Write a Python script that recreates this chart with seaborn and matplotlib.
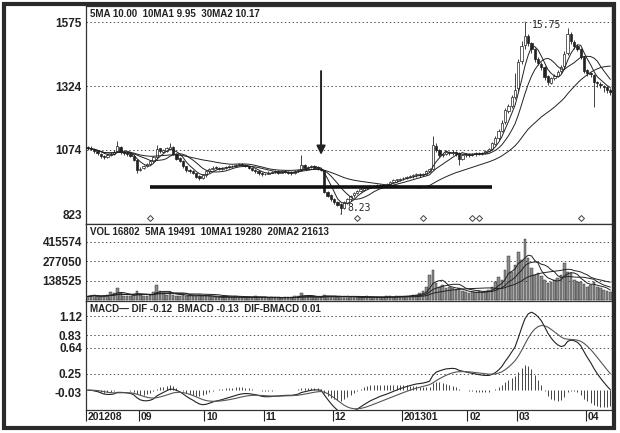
import matplotlib
matplotlib.use("Agg")
import matplotlib.pyplot as plt
import matplotlib.transforms as mtransforms
from matplotlib.patches import Rectangle
import numpy as np
import pandas as pd
import seaborn as sns

# daily bars Aug 2012 - Apr 2013, prices x100
close = [1080, 1078, 1070, 1062, 1050, 1045, 1055, 1060, 1068, 1090,
         1066, 1062, 1058, 1052, 1035, 995, 1000, 1012, 1020, 1030,
         1045, 1078, 1070, 1072, 1080, 1085, 1060, 1040, 1030, 1010,
         995, 990, 985, 970, 965, 975, 990, 1000, 1005, 1003,
         1000, 1004, 1008, 1010, 1012, 1015, 1018, 1015, 1010, 1002,
         995, 990, 982, 978, 980, 985, 988, 990, 985, 990,
         988, 985, 982, 990, 995, 1015, 1005, 1008, 1010, 1005,
         1000, 995, 910, 895, 880, 870, 860, 845, 870, 880,
         895, 905, 912, 920, 925, 928, 933, 930, 935, 937,
         935, 940, 948, 955, 958, 962, 965, 968, 972, 975,
         978, 976, 980, 990, 1000, 1095, 1075, 1054, 1060, 1066,
         1062, 1068, 1060, 1040, 1055, 1058, 1054, 1058, 1062, 1060,
         1064, 1070, 1076, 1100, 1121, 1150, 1180, 1230, 1245, 1280,
         1310, 1420, 1480, 1520, 1495, 1470, 1430, 1415, 1400, 1360,
         1340, 1355, 1365, 1380, 1400, 1450, 1530, 1500, 1480, 1470,
         1440, 1385, 1375, 1370, 1340, 1335, 1328, 1320, 1310, 1300]
open_ = [1085, 1082, 1076, 1070, 1060, 1050, 1046, 1056, 1060, 1070,
         1085, 1068, 1062, 1058, 1052, 1035, 996, 1002, 1013, 1021,
         1032, 1048, 1080, 1068, 1071, 1078, 1084, 1058, 1042, 1030,
         1010, 996, 990, 982, 972, 966, 975, 990, 1000, 1006,
         1004, 1000, 1004, 1008, 1010, 1012, 1015, 1018, 1016, 1010,
         1002, 996, 990, 984, 978, 980, 985, 988, 992, 985,
         991, 988, 986, 982, 990, 996, 1014, 1004, 1008, 1011,
         1006, 1001, 995, 908, 896, 882, 872, 862, 846, 868,
         880, 896, 904, 913, 919, 926, 928, 934, 929, 934,
         938, 934, 941, 947, 956, 957, 963, 964, 969, 971,
         976, 980, 975, 981, 990, 1000, 1090, 1074, 1055, 1060,
         1067, 1061, 1068, 1062, 1040, 1054, 1059, 1055, 1057, 1063,
         1059, 1063, 1069, 1078, 1098, 1120, 1150, 1182, 1228, 1248,
         1282, 1315, 1422, 1485, 1522, 1493, 1468, 1432, 1412, 1398,
         1362, 1338, 1356, 1364, 1382, 1402, 1452, 1528, 1498, 1482,
         1468, 1438, 1386, 1376, 1368, 1342, 1334, 1326, 1319, 1309]
high = [1090, 1088, 1080, 1072, 1062, 1056, 1060, 1065, 1075, 1110,
        1088, 1072, 1066, 1062, 1055, 1038, 1008, 1016, 1024, 1034,
        1050, 1095, 1082, 1078, 1086, 1101, 1088, 1062, 1045, 1034,
        1012, 1000, 994, 985, 975, 980, 994, 1004, 1010, 1010,
        1008, 1008, 1012, 1014, 1016, 1020, 1024, 1022, 1020, 1012,
        1004, 998, 992, 986, 984, 990, 992, 995, 994, 994,
        994, 992, 990, 994, 1000, 1054, 1018, 1012, 1015, 1014,
        1010, 1004, 996, 912, 900, 886, 876, 866, 874, 884,
        898, 908, 916, 924, 928, 932, 938, 936, 940, 942,
        942, 944, 952, 960, 962, 966, 970, 972, 976, 980,
        982, 984, 984, 994, 1004, 1130, 1100, 1078, 1064, 1072,
        1070, 1074, 1070, 1065, 1060, 1064, 1062, 1062, 1068, 1066,
        1068, 1075, 1082, 1105, 1128, 1158, 1190, 1240, 1256, 1290,
        1375, 1430, 1500, 1575, 1530, 1498, 1475, 1440, 1418, 1402,
        1366, 1360, 1372, 1388, 1408, 1460, 1551, 1535, 1505, 1488,
        1472, 1442, 1392, 1380, 1372, 1346, 1340, 1330, 1324, 1315]
low = [1074, 1072, 1064, 1055, 1044, 1040, 1042, 1050, 1055, 1066,
       1060, 1056, 1052, 1046, 1030, 985, 990, 998, 1008, 1016,
       1028, 1040, 1064, 1062, 1066, 1072, 1055, 1035, 1025, 1005,
       988, 984, 978, 965, 956, 962, 970, 985, 996, 998,
       994, 996, 1000, 1004, 1006, 1008, 1010, 1010, 1006, 998,
       990, 985, 976, 972, 974, 978, 982, 984, 980, 982,
       982, 980, 976, 978, 986, 992, 1000, 1000, 1004, 1000,
       994, 990, 905, 888, 874, 864, 854, 823, 842, 864,
       876, 890, 900, 908, 914, 920, 924, 925, 926, 930,
       930, 930, 938, 944, 950, 952, 958, 960, 964, 966,
       970, 970, 972, 976, 986, 996, 1066, 1048, 1048, 1054,
       1055, 1056, 1052, 1015, 1036, 1048, 1046, 1050, 1052, 1054,
       1055, 1058, 1065, 1074, 1094, 1115, 1144, 1175, 1220, 1240,
       1275, 1305, 1410, 1470, 1480, 1455, 1420, 1405, 1388, 1350,
       1330, 1332, 1350, 1360, 1376, 1396, 1445, 1490, 1470, 1460,
       1430, 1375, 1365, 1360, 1242, 1322, 1315, 1300, 1296, 1290]
volume = [28000, 35000, 42000, 28000, 21000, 35000, 42000, 57000, 50000, 85000,
          50000, 35000, 28000, 28000, 42000, 64000, 42000, 35000, 35000, 42000,
          57000, 107000, 64000, 50000, 42000, 57000, 42000, 35000, 35000, 42000,
          35000, 28000, 28000, 35000, 42000, 35000, 28000, 28000, 21000, 21000,
          21000, 21000, 28000, 21000, 21000, 28000, 21000, 21000, 21000, 21000,
          21000, 28000, 21000, 21000, 21000, 14000, 21000, 21000, 21000, 14000,
          21000, 21000, 21000, 28000, 35000, 50000, 35000, 28000, 28000, 21000,
          21000, 21000, 42000, 35000, 28000, 28000, 21000, 28000, 35000, 28000,
          21000, 21000, 21000, 21000, 21000, 28000, 21000, 21000, 21000, 21000,
          21000, 28000, 28000, 21000, 28000, 35000, 28000, 35000, 35000, 42000,
          42000, 50000, 64000, 92000, 178000, 213000, 121000, 99000, 107000, 85000,
          99000, 85000, 71000, 85000, 64000, 57000, 50000, 57000, 57000, 64000,
          57000, 64000, 71000, 99000, 128000, 163000, 142000, 213000, 313000, 199000,
          249000, 341000, 284000, 433000, 298000, 227000, 178000, 192000, 171000, 142000,
          121000, 128000, 142000, 156000, 178000, 263000, 199000, 192000, 142000, 128000,
          128000, 114000, 99000, 107000, 128000, 92000, 85000, 71000, 64000, 57000]

month_starts = [0, 16, 36, 54, 75, 96, 116, 131, 152]
month_labels = ["201208", "09", "10", "11", "12", "201301", "02", "03", "04"]

price_ticks = [1575, 1324, 1074, 823]
vol_ticks = [415574, 277050, 138525]
macd_ticks = [1.12, 0.83, 0.64, 0.25, -0.03]

event_days = [19, 82, 102, 117, 119, 150]
arrow_day = 71
support_level = 930
support_span = (19, 123)

price_title = "5MA 10.00  10MA1 9.95  30MA2 10.17"
vol_title = "VOL 16802  5MA 19491  10MA1 19280  20MA2 21613"
macd_title = "MACD\u2014 DIF -0.12  BMACD -0.13  DIF-BMACD 0.01"

df = pd.DataFrame({"open": open_, "high": high, "low": low, "close": close, "vol": volume})
df["day"] = np.arange(len(df))

for w in (5, 10, 30):
    df[f"ma{w}"] = df["close"].rolling(w, min_periods=1).mean()
for w in (5, 10, 20):
    df[f"vma{w}"] = df["vol"].rolling(w, min_periods=1).mean()

c = df["close"] / 100
dif = c.ewm(span=12, adjust=False).mean() - c.ewm(span=26, adjust=False).mean()
dea = dif.ewm(span=9, adjust=False).mean()
df["dif"] = dif
df["dea"] = dea
df["hist"] = dif - dea

sns.set_style("white")
plt.rcParams["font.family"] = ["Liberation Sans", "DejaVu Sans"]

W, H = 620, 433
fig = plt.figure(figsize=(6.2, 4.33), dpi=100)


def box(top, bottom):
    return [86 / W, 1 - bottom / H, 526 / W, (bottom - top) / H]


ax1 = fig.add_axes(box(6, 224))
ax2 = fig.add_axes(box(224, 301))
ax3 = fig.add_axes(box(301, 410))

ink = "#222222"
grid_kw = dict(color="#555555", lw=0.7, ls=(0, (1.5, 2.5)), zorder=0)

# price panel
up = df["close"] >= df["open"]
ax1.vlines(df["day"], df["low"], df["high"], color=ink, lw=0.6, zorder=2)
body = np.maximum((df["close"] - df["open"]).abs(), 3)
ax1.bar(df["day"], body, bottom=np.minimum(df["open"], df["close"]), width=0.7,
        color=np.where(up, "white", ink), edgecolor=ink, lw=0.5, zorder=3)
for w in (5, 10, 30):
    sns.lineplot(data=df, x="day", y=f"ma{w}", ax=ax1, color=ink, lw=0.7, zorder=4)
for t in price_ticks[:-1]:
    ax1.axhline(t, **grid_kw)

ax1.hlines(support_level, *support_span, color="#111111", lw=2.6, zorder=5)
ax1.annotate("", xy=(arrow_day, df["high"][arrow_day] + 40),
             xytext=(arrow_day, df["high"][arrow_day] + 390),
             arrowprops=dict(arrowstyle="-|>", color=ink, lw=1.4, mutation_scale=13))

pk = int(df["high"].idxmax())
ax1.annotate(f"{df['high'][pk] / 100:.2f}", xy=(pk, df["high"][pk]), xytext=(pk + 2, df["high"][pk] - 12),
             fontsize=7, family="DejaVu Sans Mono", va="center", ha="left",
             arrowprops=dict(arrowstyle="-", color=ink, lw=0.6))
lo = int(df["low"].idxmin())
ax1.annotate(f"{df['low'][lo] / 100:.2f}", xy=(lo, df["low"][lo]), xytext=(lo + 2, df["low"][lo] + 22),
             fontsize=7, family="DejaVu Sans Mono", va="center", ha="left",
             arrowprops=dict(arrowstyle="-", color=ink, lw=0.6))
ax1.scatter(event_days, [806] * len(event_days), marker="D", s=9,
            facecolor="white", edgecolor="#444444", lw=0.7, zorder=5)
ax1.set_ylim(784, 1638)
ax1.set_yticks(price_ticks)
ax1.set_yticklabels([str(t) for t in price_ticks])
ax1.text(0.007, 0.988, price_title, transform=ax1.transAxes, va="top", ha="left",
         fontsize=7, fontweight="bold", color=ink)

# volume panel
ax2.bar(df["day"], df["vol"], width=0.8, color="#8c8c8c", edgecolor=ink, lw=0.3, zorder=2)
for w in (5, 10, 20):
    sns.lineplot(data=df, x="day", y=f"vma{w}", ax=ax2, color=ink, lw=0.7, zorder=3)
for t in vol_ticks:
    ax2.axhline(t, **grid_kw)
ax2.set_ylim(-4000, 543000)
ax2.set_yticks(vol_ticks)
ax2.set_yticklabels([str(t) for t in vol_ticks])
ax2.text(0.007, 0.96, vol_title, transform=ax2.transAxes, va="top", ha="left",
         fontsize=7, fontweight="bold", color=ink)

# MACD panel
ax3.vlines(df["day"], 0, df["hist"], color="#444444", lw=0.7, zorder=2)
sns.lineplot(data=df, x="day", y="dif", ax=ax3, color=ink, lw=0.8, zorder=3)
sns.lineplot(data=df, x="day", y="dea", ax=ax3, color="#555555", lw=0.8, zorder=3)
for t in macd_ticks[:-1]:
    ax3.axhline(t, **grid_kw)
ax3.set_ylim(-0.30, 1.35)
ax3.set_yticks(macd_ticks)
ax3.set_yticklabels([f"{t:.2f}" for t in macd_ticks])
ax3.text(0.007, 0.975, macd_title, transform=ax3.transAxes, va="top", ha="left",
         fontsize=7, fontweight="bold", color=ink)

ticks = [m - 0.5 for m in month_starts]
ax3.set_xticks(ticks)
ax3.set_xticklabels([""] * len(ticks))
ax3.tick_params(axis="x", length=8, width=0.8, color=ink, direction="out", bottom=True)
trans = mtransforms.blended_transform_factory(ax3.transData, ax3.transAxes)
for t, lab in zip(ticks, month_labels):
    ax3.text(t + 0.6, -0.015, lab, transform=trans, va="top", ha="left",
             fontsize=7.5, fontweight="bold", color=ink)

for ax in (ax1, ax2, ax3):
    ax.set_xlim(-0.5, len(df) - 0.5)
    ax.set_xlabel("")
    ax.set_ylabel("")
    ax.tick_params(axis="y", length=0, pad=3, labelsize=8.5)
    for lab in ax.get_yticklabels():
        lab.set_fontweight("bold")
        lab.set_color(ink)
    for s in ax.spines.values():
        s.set_color("#333333")
        s.set_linewidth(0.9)
    ax.set_facecolor("white")
ax1.set_xticks([])
ax2.set_xticks([])

fig.patches.append(Rectangle((4 / W, 1 - 428 / H), 610 / W, 424 / H, transform=fig.transFigure,
                             fill=False, lw=3, edgecolor="#2a2a2a"))

fig.savefig("out.png", dpi=100)
